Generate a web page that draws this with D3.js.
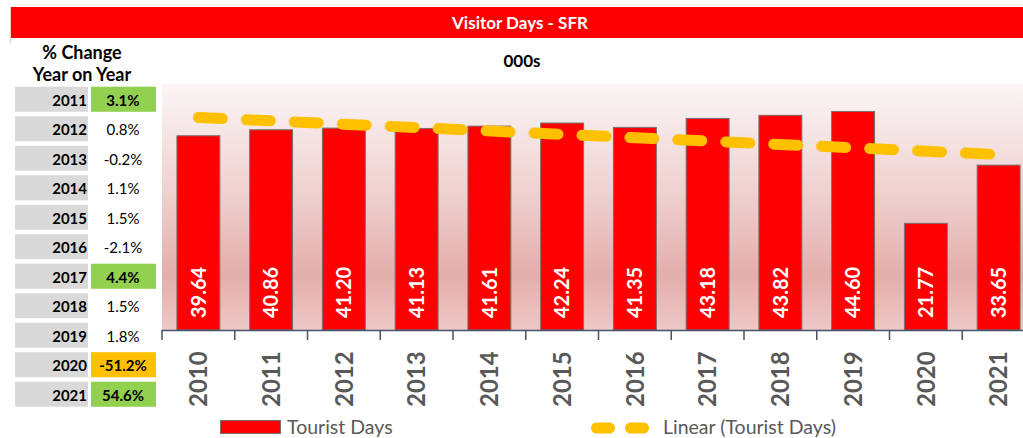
<!DOCTYPE html>
<html>
<head>
<meta charset="utf-8">
<script src="https://cdn.jsdelivr.net/npm/d3@7"></script>
<style>
    body { margin: 0; background: #fff; }
    svg { display: block; font-family: Lato, "Open Sans", sans-serif; }
</style>
</head>
<body>
<svg id="chart"></svg>
<script>
var years = ["2010", "2011", "2012", "2013", "2014", "2015", "2016", "2017", "2018", "2019", "2020", "2021"];
var touristDays = [39.64, 40.86, 41.20, 41.13, 41.61, 42.24, 41.35, 43.18, 43.82, 44.60, 21.77, 33.65];

var changeYears = ["2011", "2012", "2013", "2014", "2015", "2016", "2017", "2018", "2019", "2020", "2021"];
var changePct = [3.1, 0.8, -0.2, 1.1, 1.5, -2.1, 4.4, 1.5, 1.8, -51.2, 54.6];

var title = "Visitor Days - SFR",
    subtitle = "000s",
    tableHead = ["% Change", "Year on Year"],
    seriesName = "Tourist Days",
    trendName = "Linear (Tourist Days)";

function draw(id){
    var width = 1023,
        height = 438,
        axisY = 330;

    var svg = d3.select("#" + id)
        .attr("width", width)
        .attr("height", height);

    // title band
    svg.append("rect")
        .attr("x", 10).attr("y", 7)
        .attr("width", width - 10).attr("height", 31)
        .style("fill", "#ff0000");
    svg.append("line")
        .attr("x1", 10.5).attr("x2", 10.5).attr("y1", 7).attr("y2", 43)
        .style("stroke", "#f4c6c6");
    svg.append("text")
        .attr("x", 520).attr("y", 29)
        .attr("text-anchor", "middle")
        .style("fill", "#fff").style("font-weight", "bold").style("font-size", "17px")
        .text(title);
    svg.append("text")
        .attr("x", 522).attr("y", 67)
        .attr("text-anchor", "middle")
        .style("fill", "#000").style("font-weight", "bold").style("font-size", "17px")
        .text(subtitle);

    // % change table
    svg.selectAll("text.head")
        .data(tableHead)
        .enter().append("text")
        .attr("class", "head")
        .attr("x", 82)
        .attr("y", function(d, i) { return 59 + i * 22; })
        .attr("text-anchor", "middle")
        .style("font-weight", "bold").style("font-size", "18px")
        .text(function(d) { return d; });

    var row = d3.scaleBand()
        .domain(changeYears)
        .range([84.5, 84.5 + 29.5 * changeYears.length])
        .paddingInner(0.15)
        .paddingOuter(0.075);

    var cellColor = function(v) {
        if (v >= 3) return "#92d050";
        if (v <= -3) return "#ffc000";
        return null;
    };

    var rows = svg.selectAll("g.row")
        .data(changeYears)
        .enter().append("g")
        .attr("class", "row")
        .attr("transform", function(d) { return "translate(0," + row(d) + ")"; });

    rows.append("rect")
        .attr("x", 15).attr("width", 73)
        .attr("height", row.bandwidth())
        .style("fill", "#d9d9d9");
    rows.append("rect")
        .attr("x", 91).attr("width", 65)
        .attr("height", row.bandwidth())
        .style("fill", function(d, i) { return cellColor(changePct[i]) || "none"; });
    rows.append("text")
        .attr("x", 87).attr("y", row.bandwidth() / 2 + 1)
        .attr("dy", "0.36em")
        .attr("text-anchor", "end")
        .style("font-weight", "bold").style("font-size", "15px")
        .text(function(d) { return d; });
    rows.append("text")
        .attr("x", 123).attr("y", row.bandwidth() / 2 + 1)
        .attr("dy", "0.36em")
        .attr("text-anchor", "middle")
        .style("font-weight", function(d, i) { return cellColor(changePct[i]) ? "bold" : "normal"; })
        .style("font-size", "15px")
        .text(function(d, i) { return changePct[i].toFixed(1) + "%"; });

    // plot area
    var x = d3.scaleBand()
        .domain(years)
        .range([162, 1035])
        .paddingInner(0.41)
        .paddingOuter(0.205);

    var y = d3.scaleLinear()
        .domain([0, 50])
        .range([axisY, 85]);

    var grad = svg.append("defs").append("linearGradient")
        .attr("id", "bg").attr("x1", 0).attr("x2", 0).attr("y1", 0).attr("y2", 1);
    grad.append("stop").attr("offset", "0%").attr("stop-color", "#fbf6f6");
    grad.append("stop").attr("offset", "45%").attr("stop-color", "#eed0cf");
    grad.append("stop").attr("offset", "78%").attr("stop-color", "#e3aeac");
    grad.append("stop").attr("offset", "100%").attr("stop-color", "#eec8c6");

    svg.append("rect")
        .attr("x", 162).attr("y", y(50) - 1)
        .attr("width", width - 162).attr("height", axisY - y(50) + 1)
        .style("fill", "url(#bg)");

    svg.selectAll("rect.bar")
        .data(touristDays)
        .enter().append("rect")
        .attr("class", "bar")
        .attr("x", function(d, i) { return x(years[i]); })
        .attr("y", function(d) { return y(d); })
        .attr("width", x.bandwidth())
        .attr("height", function(d) { return axisY - y(d); })
        .style("fill", "#ff0000")
        .style("stroke", "#767171")
        .style("stroke-width", 1);

    svg.selectAll("text.val")
        .data(touristDays)
        .enter().append("text")
        .attr("class", "val")
        .attr("transform", function(d, i) {
            return "translate(" + (x(years[i]) + x.bandwidth() / 2) + "," + (axisY - 12) + ") rotate(-90)";
        })
        .attr("dy", "0.36em")
        .style("fill", "#fff").style("font-weight", "bold").style("font-size", "20px")
        .text(function(d) { return d.toFixed(2); });

    // linear trend (least squares over category index)
    var n = touristDays.length,
        mx = d3.mean(touristDays, function(d, i) { return i; }),
        my = d3.mean(touristDays),
        sxy = d3.sum(touristDays, function(d, i) { return (i - mx) * (d - my); }),
        sxx = d3.sum(touristDays, function(d, i) { return (i - mx) * (i - mx); }),
        slope = sxy / sxx;
    var trend = [0, n - 1].map(function(i) { return {year: years[i], v: my + slope * (i - mx)}; });

    svg.append("path")
        .datum(trend)
        .attr("d", d3.line()
            .x(function(d) { return x(d.year) + x.bandwidth() / 2; })
            .y(function(d) { return y(d.v); }))
        .style("fill", "none")
        .style("stroke", "#ffc000")
        .style("stroke-width", 11)
        .style("stroke-linecap", "round")
        .style("stroke-dasharray", "24 24");

    // x axis
    var bounds = years.map(function(d) { return x(d) - x.step() * x.paddingInner() / 2; });
    bounds.push(bounds[bounds.length - 1] + x.step());

    svg.append("line")
        .attr("x1", 162).attr("x2", width)
        .attr("y1", axisY + 0.5).attr("y2", axisY + 0.5)
        .style("stroke", "#44546a").style("stroke-width", 1.5);
    svg.selectAll("line.tick")
        .data(bounds)
        .enter().append("line")
        .attr("class", "tick")
        .attr("x1", function(d) { return d; }).attr("x2", function(d) { return d; })
        .attr("y1", axisY).attr("y2", axisY + 10)
        .style("stroke", "#44546a").style("stroke-width", 1.5);

    svg.selectAll("text.year")
        .data(years)
        .enter().append("text")
        .attr("class", "year")
        .attr("transform", function(d) {
            return "translate(" + (x(d) + x.bandwidth() / 2) + ",407) rotate(-90)";
        })
        .attr("dy", "0.36em")
        .style("fill", "#595959").style("font-weight", "bold").style("font-size", "24px")
        .text(function(d) { return d; });

    // legend
    var legend = svg.append("g").style("font-size", "19.5px").style("fill", "#595959");
    legend.append("rect")
        .attr("x", 220.5).attr("y", 420.5).attr("width", 60).attr("height", 13)
        .style("fill", "#ff0000").style("stroke", "#767171");
    legend.append("text")
        .attr("x", 287).attr("y", 434)
        .text(seriesName);
    legend.append("line")
        .attr("x1", 596.5).attr("x2", 643.5).attr("y1", 428).attr("y2", 428)
        .style("stroke", "#ffc000").style("stroke-width", 11)
        .style("stroke-linecap", "round").style("stroke-dasharray", "13 21");
    legend.append("text")
        .attr("x", 663).attr("y", 434)
        .text(trendName);
}

draw("chart");
</script>
</body>
</html>
